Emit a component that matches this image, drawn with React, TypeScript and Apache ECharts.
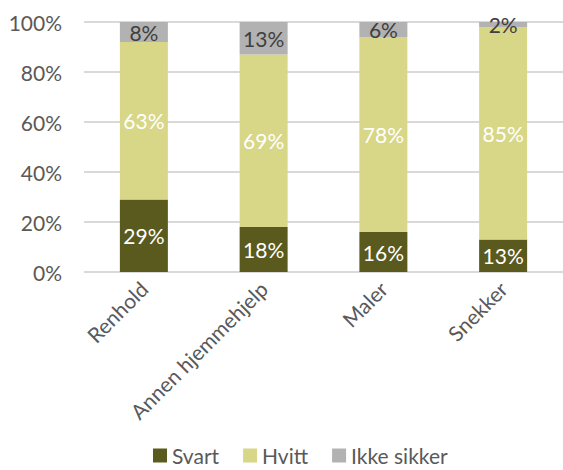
import React, { useEffect, useRef } from "react";
import * as echarts from "echarts";

const categories = ["Renhold", "Annen hjemmehjelp", "Maler", "Snekker"];
const svart = [29, 18, 16, 13];
const hvitt = [63, 69, 78, 85];
const ikkeSikker = [8, 13, 6, 2];
const yTicks = [0, 20, 40, 60, 80, 100];

const FONT = "Lato, 'Open Sans', sans-serif";
const FS = 21;

export default function App() {
  const ref = useRef<HTMLDivElement>(null);
  useEffect(() => {
    document.body.style.margin = "0";
    const chart = echarts.init(ref.current!, null, { renderer: "svg" });
    const mk = (name: string, data: number[], color: string, labelColor: string) => ({
      name,
      type: "bar",
      stack: "total",
      data,
      barWidth: 48,
      itemStyle: { color },
      label: {
        show: true,
        position: "inside",
        formatter: "{c}%",
        color: labelColor,
        fontFamily: FONT,
        fontSize: FS,
      },
    });
    chart.setOption({
      animation: false,
      textStyle: { fontFamily: FONT },
      grid: { left: 84, top: 22, width: 482, height: 250, containLabel: false },
      legend: {
        left: 148,
        top: 440,
        itemWidth: 14,
        itemHeight: 14,
        itemGap: 24,
        icon: "rect",
        textStyle: { color: "#595959", fontSize: FS, fontFamily: FONT },
      },
      xAxis: {
        type: "category",
        data: categories,
        axisLine: { show: false },
        axisTick: { show: false },
        axisLabel: {
          rotate: 45,
          color: "#595959",
          fontSize: FS,
          fontFamily: FONT,
          margin: 13,
          interval: 0,
        },
      },
      yAxis: {
        type: "value",
        min: 0,
        max: 100,
        interval: 20,
        axisLine: { show: false },
        axisTick: { show: false },
        splitLine: { lineStyle: { color: "#d9d9d9", width: 2 } },
        axisLabel: {
          color: "#595959",
          fontSize: FS,
          fontFamily: FONT,
          margin: 22,
          formatter: (v: number) => (yTicks.includes(v) ? v + "%" : ""),
        },
      },
      series: [
        mk("Svart", svart, "#5a5a1f", "#ffffff"),
        mk("Hvitt", hvitt, "#d7d787", "#ffffff"),
        mk("Ikke sikker", ikkeSikker, "#b2b2b2", "#404040"),
      ],
    });
    return () => chart.dispose();
  }, []);
  return <div ref={ref} style={{ width: 563, height: 470 }} />;
}
